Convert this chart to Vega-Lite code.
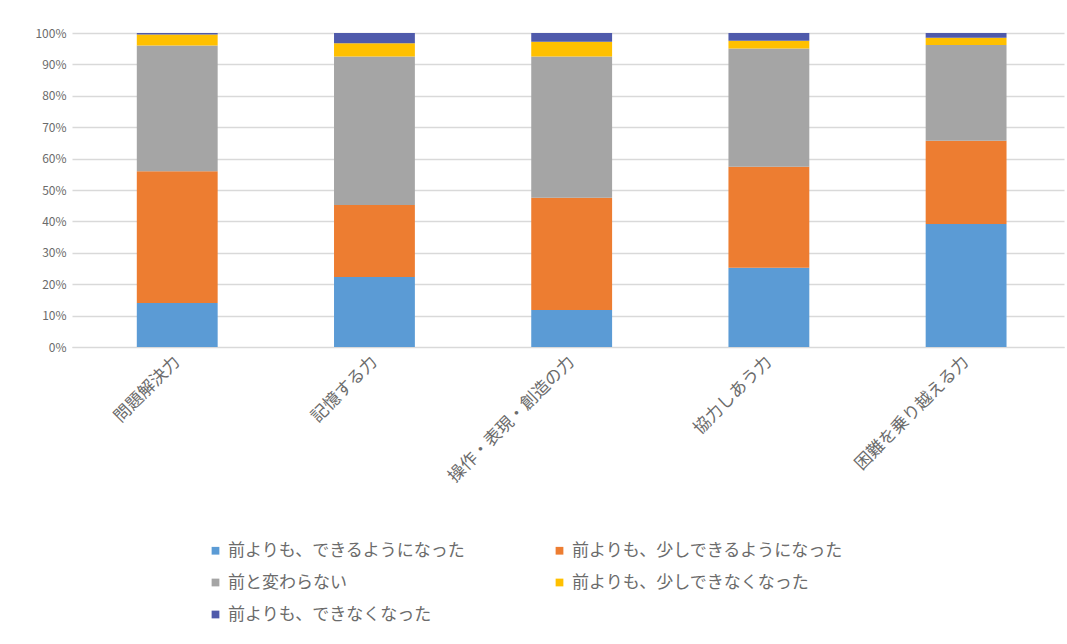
{
  "$schema": "https://vega.github.io/schema/vega-lite/v6.json",
  "width": 992,
  "height": 314,
  "autosize": {"type": "none"},
  "padding": {"left": 72, "top": 33, "right": 3, "bottom": 297},
  "background": "#ffffff",
  "config": {
    "font": "Noto Sans CJK JP",
    "view": {"stroke": null}
  },
  "data": {
    "values": [
      {"item": "問題解決力", "cat": "前よりも、できるようになった", "k": 1, "v": 14},
      {"item": "問題解決力", "cat": "前よりも、少しできるようになった", "k": 2, "v": 42},
      {"item": "問題解決力", "cat": "前と変わらない", "k": 3, "v": 40},
      {"item": "問題解決力", "cat": "前よりも、少しできなくなった", "k": 4, "v": 3.5},
      {"item": "問題解決力", "cat": "前よりも、できなくなった", "k": 5, "v": 0.5},
      {"item": "記憶する力", "cat": "前よりも、できるようになった", "k": 1, "v": 22.3},
      {"item": "記憶する力", "cat": "前よりも、少しできるようになった", "k": 2, "v": 22.9},
      {"item": "記憶する力", "cat": "前と変わらない", "k": 3, "v": 47.3},
      {"item": "記憶する力", "cat": "前よりも、少しできなくなった", "k": 4, "v": 4.2},
      {"item": "記憶する力", "cat": "前よりも、できなくなった", "k": 5, "v": 3.3},
      {"item": "操作・表現・創造の力", "cat": "前よりも、できるようになった", "k": 1, "v": 11.8},
      {"item": "操作・表現・創造の力", "cat": "前よりも、少しできるようになった", "k": 2, "v": 35.7},
      {"item": "操作・表現・創造の力", "cat": "前と変わらない", "k": 3, "v": 45},
      {"item": "操作・表現・創造の力", "cat": "前よりも、少しできなくなった", "k": 4, "v": 4.7},
      {"item": "操作・表現・創造の力", "cat": "前よりも、できなくなった", "k": 5, "v": 2.8},
      {"item": "協力しあう力", "cat": "前よりも、できるようになった", "k": 1, "v": 25.2},
      {"item": "協力しあう力", "cat": "前よりも、少しできるようになった", "k": 2, "v": 32.2},
      {"item": "協力しあう力", "cat": "前と変わらない", "k": 3, "v": 37.7},
      {"item": "協力しあう力", "cat": "前よりも、少しできなくなった", "k": 4, "v": 2.4},
      {"item": "協力しあう力", "cat": "前よりも、できなくなった", "k": 5, "v": 2.5},
      {"item": "困難を乗り越える力", "cat": "前よりも、できるようになった", "k": 1, "v": 39.2},
      {"item": "困難を乗り越える力", "cat": "前よりも、少しできるようになった", "k": 2, "v": 26.5},
      {"item": "困難を乗り越える力", "cat": "前と変わらない", "k": 3, "v": 30.5},
      {"item": "困難を乗り越える力", "cat": "前よりも、少しできなくなった", "k": 4, "v": 2.3},
      {"item": "困難を乗り越える力", "cat": "前よりも、できなくなった", "k": 5, "v": 1.5}
    ]
  },
  "mark": {"type": "bar"},
  "encoding": {
    "x": {
      "field": "item",
      "type": "nominal",
      "sort": null,
      "scale": {"paddingInner": 0.59, "paddingOuter": 0.31, "align": 0.53},
      "axis": {
        "title": null,
        "labelAngle": -45,
        "labelAlign": "right",
        "labelBaseline": "middle",
        "labelFontSize": 17,
        "labelColor": "#6b6b6b",
        "labelPadding": 12,
        "ticks": false,
        "domainColor": "#d9d9d9",
        "labelLimit": 300
      }
    },
    "y": {
      "field": "v",
      "type": "quantitative",
      "stack": "normalize",
      "scale": {"domain": [0, 1]},
      "axis": {
        "title": null,
        "format": ".0%",
        "values": [0, 0.1, 0.2, 0.3, 0.4, 0.5, 0.6, 0.7, 0.8, 0.9, 1],
        "labelOverlap": false,
        "labelFontSize": 12,
        "labelColor": "#6b6b6b",
        "labelPadding": 6,
        "ticks": false,
        "domain": false,
        "gridColor": "#d9d9d9",
        "gridWidth": 1.5
      }
    },
    "order": {"field": "k", "type": "quantitative"},
    "color": {
      "field": "cat",
      "type": "nominal",
      "scale": {
        "domain": ["前よりも、できるようになった", "前よりも、少しできるようになった", "前と変わらない", "前よりも、少しできなくなった", "前よりも、できなくなった"],
        "range": ["#5B9BD5", "#ED7D31", "#A5A5A5", "#FFC000", "#4F5AAB"]
      },
      "legend": {
        "title": null,
        "orient": "none",
        "direction": "horizontal",
        "legendX": 135,
        "legendY": 509,
        "columns": 2,
        "columnPadding": 85,
        "rowPadding": 14,
        "symbolType": "square",
        "symbolSize": 60,
        "labelFontSize": 17,
        "labelColor": "#6b6b6b",
        "labelLimit": 400
      }
    }
  }
}
